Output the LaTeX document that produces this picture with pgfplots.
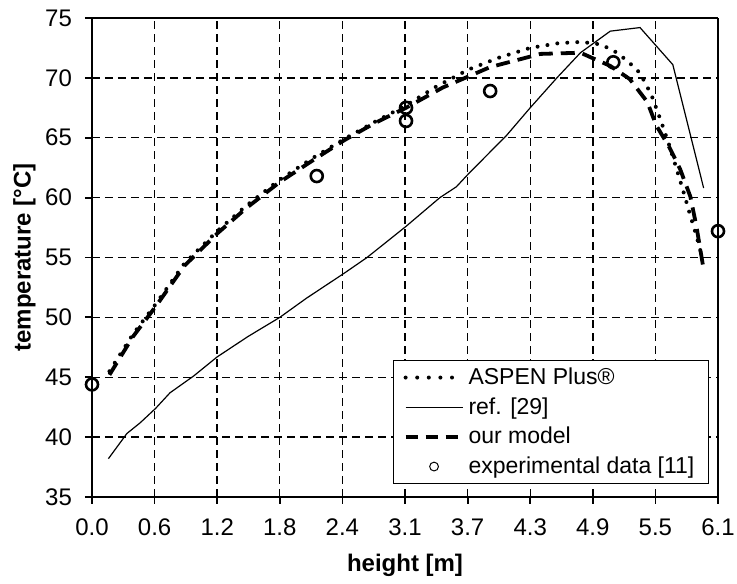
\documentclass[border=0pt]{standalone}
\usepackage{fontspec}
\setmainfont{Liberation Sans}
\usepackage{pgfplots}
\pgfplotsset{compat=1.18}
\usetikzlibrary{calc}

% column temperature profile: x = height [m], y = temperature [C]
\pgfplotstableread{
x y
0.17 45.5
0.40 48.6
0.62 51.1
0.90 54.5
1.22 57.2
1.50 59.3
1.83 61.5
2.15 63.3
2.46 64.9
2.75 66.3
3.06 67.7
3.36 69.3
3.67 70.7
3.97 71.7
4.27 72.5
4.55 72.9
4.77 73.0
4.95 72.8
5.08 72.3
5.22 71.4
5.34 70.4
5.45 68.6
5.54 66.5
5.62 64.5
5.70 62.3
5.77 60.3
5.83 58.5
5.89 56.8
5.94 55.2
}\aspen

\pgfplotstableread{
x y
0.16 38.2
0.34 40.3
0.47 41.2
0.62 42.4
0.76 43.7
0.99 45.1
1.22 46.7
1.52 48.4
1.83 50.0
2.09 51.6
2.46 53.7
2.68 55.0
3.06 57.6
3.39 60.0
3.55 60.9
3.67 62.0
4.04 65.2
4.27 67.5
4.53 70.0
4.76 72.1
5.05 73.9
5.34 74.2
5.66 71.1
5.96 60.8
}\refdata

\pgfplotstableread{
x y
0.17 45.2
0.40 48.4
0.62 50.9
0.90 54.3
1.22 57.0
1.50 59.1
1.83 61.3
2.15 63.1
2.46 64.8
2.75 66.2
3.06 67.5
3.42 69.2
3.88 70.9
4.37 72.0
4.76 72.1
4.89 71.6
5.05 71.0
5.24 69.9
5.41 68.0
5.50 66.0
5.62 64.3
5.73 62.4
5.83 60.1
5.89 57.6
5.96 54.0
}\model

\pgfplotstableread{
x y
0.00 44.4
2.19 61.8
3.06 67.5
3.06 66.4
3.88 68.9
5.08 71.3
6.10 57.2
}\expdata

\begin{document}
\begin{tikzpicture}
\begin{axis}[
    name=ax,
    scale only axis,
    width=313pt, height=239.5pt,
    xmin=0, xmax=6.1, ymin=35, ymax=75,
    xtick={0,0.61,1.22,1.83,2.44,3.05,3.66,4.27,4.88,5.49,6.1},
    xticklabels={0.0,0.6,1.2,1.8,2.4,3.1,3.7,4.3,4.9,5.5,6.1},
    ytick={35,40,...,75},
    /pgf/number format/assume math mode=true,
    tick label style={font=\fontsize{12}{14}\selectfont},
    xticklabel style={yshift=-4pt},
    yticklabel style={xshift=-3pt},
    tick align=outside,
    major tick length=3.5pt,
    tick style={black, line width=0.9pt},
    xtick pos=bottom, ytick pos=left,
    grid=major,
    major grid style={black, line width=0.7pt, dash pattern=on 4pt off 2.5pt},
    axis line style={line width=0.6pt},
    separate axis lines,
    x axis line style={line width=1.3pt},
    y axis line style={line width=1.3pt},
    xlabel={\fontsize{12}{14}\selectfont\textbf{height [m]}},
    ylabel={\fontsize{12}{14}\selectfont\textbf{temperature [°C]}},
    xlabel style={yshift=-2pt},
    ylabel style={yshift=-2pt},
    legend style={at={(1,0)}, anchor=south east, xshift=-4.5pt, yshift=6.5pt,
        draw=black, line width=0.6pt, font=\fontsize{11.5}{13}\selectfont,
        inner xsep=5pt, inner ysep=1.5pt, row sep=1pt, cells={anchor=west}},
    legend image code/.code={\draw[#1] (0cm,0cm) -- (1cm,0cm);},
    clip=false,
]
\addplot[forget plot, black, line width=1.9pt, dash pattern=on 7pt off 4pt] table {\model};
\addplot[forget plot, black, line width=2pt, line cap=round, dash pattern=on 0pt off 5pt] table {\aspen};
\addplot[forget plot, black, line width=0.6pt] table {\refdata};
\addplot[forget plot, only marks, mark=o, mark size=3pt, mark options={line width=1.3pt, black}, black] table {\expdata};
\addlegendimage{black, line width=2pt, line cap=round, dash pattern=on 0pt off 5.8pt}
\addlegendentry{ASPEN Plus®}
\addlegendimage{black, line width=0.6pt}
\addlegendentry{ref. [29]}
\addlegendimage{black, line width=1.8pt, dash pattern=on 6pt off 4pt}
\addlegendentry{our model}
\addlegendimage{legend image code/.code={\draw[black, line width=0.5pt] (0.5cm,0cm) circle (2.2pt);}}
\addlegendentry{experimental data [11]}
\end{axis}
\pgfresetboundingbox
\path ($(ax.south west)+(-46pt,-43.5pt)$) rectangle ($(ax.north east)+(9.5pt,9pt)$);
\end{tikzpicture}
\end{document}
